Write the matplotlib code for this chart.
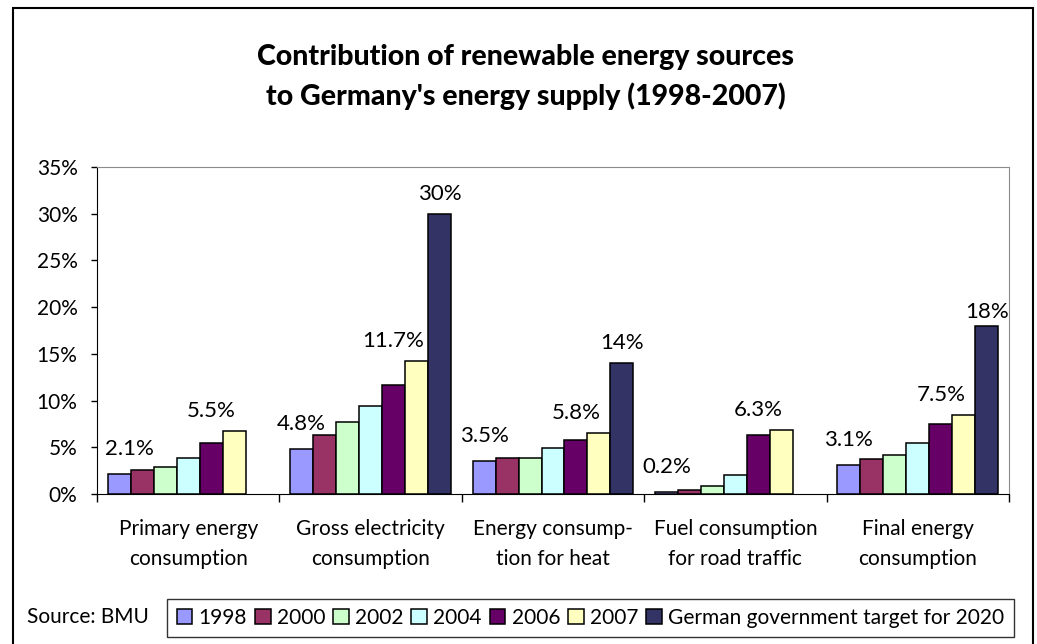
import numpy as np
import matplotlib.pyplot as plt
from matplotlib.patches import Rectangle
from matplotlib.ticker import FuncFormatter, FixedLocator

plt.rcParams['font.family'] = ['Lato', 'DejaVu Sans']

categories = ['Primary energy\nconsumption', 'Gross electricity\nconsumption',
              'Energy consump-\ntion for heat', 'Fuel consumption\nfor road traffic',
              'Final energy\nconsumption']
series = ['1998', '2000', '2002', '2004', '2006', '2007',
          'German government target for 2020']

# shares in %, one list per year (None = no bar)
v1998 = [2.1, 4.8, 3.5, 0.2, 3.1]
v2000 = [2.6, 6.3, 3.9, 0.4, 3.7]
v2002 = [2.9, 7.7, 3.9, 0.9, 4.2]
v2004 = [3.8, 9.4, 4.9, 2.0, 5.5]
v2006 = [5.5, 11.7, 5.8, 6.3, 7.5]
v2007 = [6.7, 14.2, 6.5, 6.9, 8.5]
target = [None, 30, 14, None, 18]

colors = ['#9999FF', '#993366', '#CCFFCC', '#CCFFFF', '#660066', '#FFFFC0', '#333366']
values = [v1998, v2000, v2002, v2004, v2006, v2007, target]

fig = plt.figure(figsize=(10.37, 6.44), dpi=100)
ax = fig.add_axes([97/1037, 1 - 494/644, 912/1037, 327/644])

n = len(series)
w = 0.126
groups = np.arange(len(categories)) + 0.5
for k, (name, vals, c) in enumerate(zip(series, values, colors)):
    xs = [g + (k - (n - 1) / 2) * w for g, v in zip(groups, vals) if v is not None]
    ys = [v for v in vals if v is not None]
    ax.bar(xs, ys, width=w, color=c, edgecolor='black', linewidth=1.1, label=name, zorder=3)

def xpos(k, i):
    return groups[i] + (k - (n - 1) / 2) * w

def put(k, i, base, dy, dx=0):
    val = values[k][i]
    ax.annotate(f'{val:g}%', (xpos(k, i), base), xytext=(dx, dy), textcoords='offset pixels',
                ha='center', va='baseline', fontsize=16, zorder=4)

# value labels: 1998, 2006 (above the taller of 2006/2007) and targets
for i in range(len(categories)):
    put(0, i, v1998[i], 19, 10 if i == 0 else 0)
    put(4, i, max(v2006[i], v2007[i]), 14)
    if target[i] is not None:
        put(6, i, target[i], 14 if i != 4 else 8)

ax.set_xlim(0, len(categories))
ax.set_ylim(0, 35)
ax.set_yticks(np.arange(0, 36, 5))
ax.yaxis.set_major_formatter(FuncFormatter(lambda v, p: f'{v:.0f}%'))
ax.tick_params(axis='y', direction='out', length=4, width=1, pad=10, labelsize=15)

ax.xaxis.set_major_locator(FixedLocator(np.arange(len(categories) + 1)))
ax.xaxis.set_minor_locator(FixedLocator(groups))
ax.set_xticklabels([])
ax.set_xticklabels(categories, minor=True)
ax.tick_params(axis='x', which='major', direction='out', length=6, width=1)
ax.tick_params(axis='x', which='minor', length=0, pad=18, labelsize=15)
for t in ax.get_xticklabels(minor=True):
    t.set_linespacing(1.6)

for s in ['top', 'right']:
    ax.spines[s].set_color('#8c8c8c')
for s in ['left', 'bottom']:
    ax.spines[s].set_color('black')

fig.text(0.507, 1 - 77/644, 'Contribution of renewable energy sources\nto Germany\'s energy supply (1998-2007)',
         ha='center', va='center', fontsize=20.5, fontweight='black', linespacing=1.55)

leg = fig.legend(loc='center', bbox_to_anchor=(157/1037, 1 - 638/644, 867/1037, 40/644),
                 mode='expand', ncol=7, fontsize=15, frameon=True, fancybox=False,
                 handlelength=0.75, handleheight=0.75, handletextpad=0.3,
                 columnspacing=0.5, borderpad=0.45)
leg.get_frame().set_edgecolor('black')
leg.get_frame().set_linewidth(1)
fig.text(27/1037, 1 - 617/644, 'Source: BMU', ha='left', va='center', fontsize=15)

fig.patches.append(Rectangle((13/1037, -0.05), 1020/1037, 1.05 - 8/644, transform=fig.transFigure,
                             fill=False, edgecolor='black', linewidth=1.5))

fig.savefig('out.png', dpi=100)
